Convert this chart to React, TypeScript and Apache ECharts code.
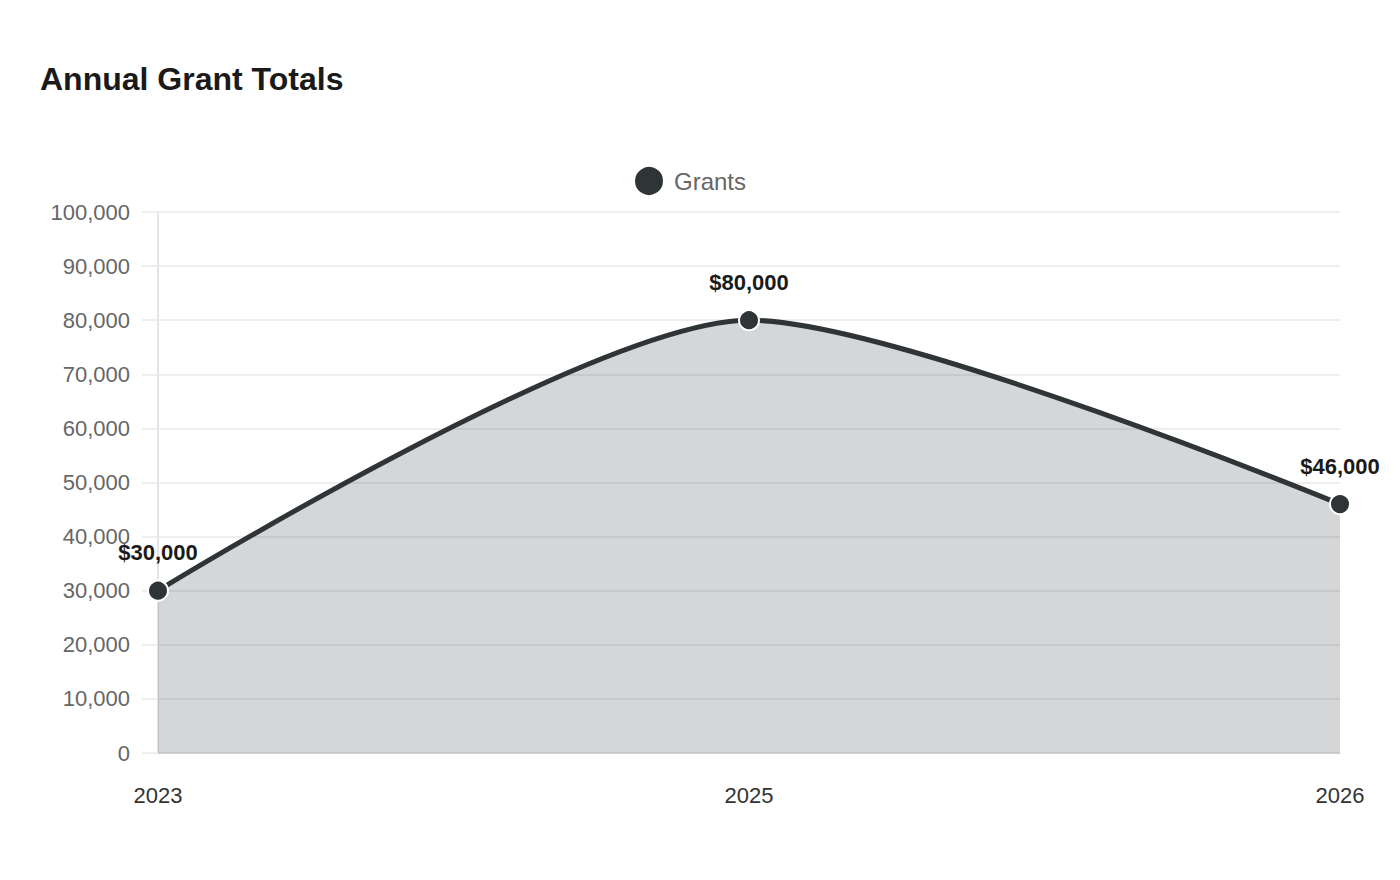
import React, { useEffect, useRef } from "react";
import * as echarts from "echarts";

const categories = ["2023", "2025", "2026"];
const grants = [30000, 80000, 46000];
const seriesName = "Grants";

const FONT = "Liberation Sans, Arial, sans-serif";

export default function App() {
  const ref = useRef<HTMLDivElement>(null);
  useEffect(() => {
    const chart = echarts.init(ref.current!, null, { renderer: "svg" });
    chart.setOption({
      animation: false,
      backgroundColor: "#ffffff",
      textStyle: { fontFamily: FONT },
      title: {
        text: "Annual Grant Totals",
        left: 35,
        top: 58,
        textStyle: { fontSize: 32, fontWeight: "bold", color: "#1a1a1a", fontFamily: FONT },
      },
      legend: {
        top: 160,
        left: 628,
        icon: "circle",
        itemWidth: 30,
        itemHeight: 30,
        itemGap: 10,
        textStyle: { fontSize: 24, color: "#666666", fontFamily: FONT, padding: [0, 0, 0, 5] },
        data: [seriesName],
      },
      grid: { left: 158, right: 60, top: 212, bottom: 127, containLabel: false },
      xAxis: {
        type: "category",
        data: categories,
        boundaryGap: false,
        axisLine: { show: true, lineStyle: { color: "#d0d0d0", width: 1 } },
        axisTick: { show: false },
        axisLabel: { margin: 31, fontSize: 22, color: "#333333", fontFamily: FONT },
        splitLine: { show: false },
      },
      yAxis: {
        type: "value",
        min: 0,
        max: 100000,
        interval: 10000,
        axisLine: { show: true, lineStyle: { color: "#e4e4e4", width: 2 } },
        axisTick: { show: true, length: 16, lineStyle: { color: "#eeeeee", width: 2 } },
        axisLabel: {
          margin: 28,
          fontSize: 22,
          color: "#666666",
          fontFamily: FONT,
          formatter: (v: number) => v.toLocaleString("en-US"),
        },
        splitLine: { show: true, lineStyle: { color: "#eeeeee", width: 2 } },
      },
      series: [
        {
          name: seriesName,
          type: "line",
          data: grants,
          smooth: 0.25,
          symbol: "circle",
          symbolSize: 20,
          lineStyle: { color: "#2f3436", width: 5 },
          itemStyle: { color: "#2f3436", borderColor: "#ffffff", borderWidth: 2 },
          areaStyle: { color: "#2f3436", opacity: 0.2 },
          label: {
            show: true,
            position: "top",
            distance: 16,
            fontSize: 22,
            fontWeight: "bold",
            color: "#1a1a1a",
            fontFamily: FONT,
            formatter: (p: any) => "$" + Number(p.value).toLocaleString("en-US"),
          },
        },
      ],
    });
    return () => chart.dispose();
  }, []);
  return <div ref={ref} style={{ position: "absolute", left: 0, top: 0, width: 1400, height: 880 }} />;
}
